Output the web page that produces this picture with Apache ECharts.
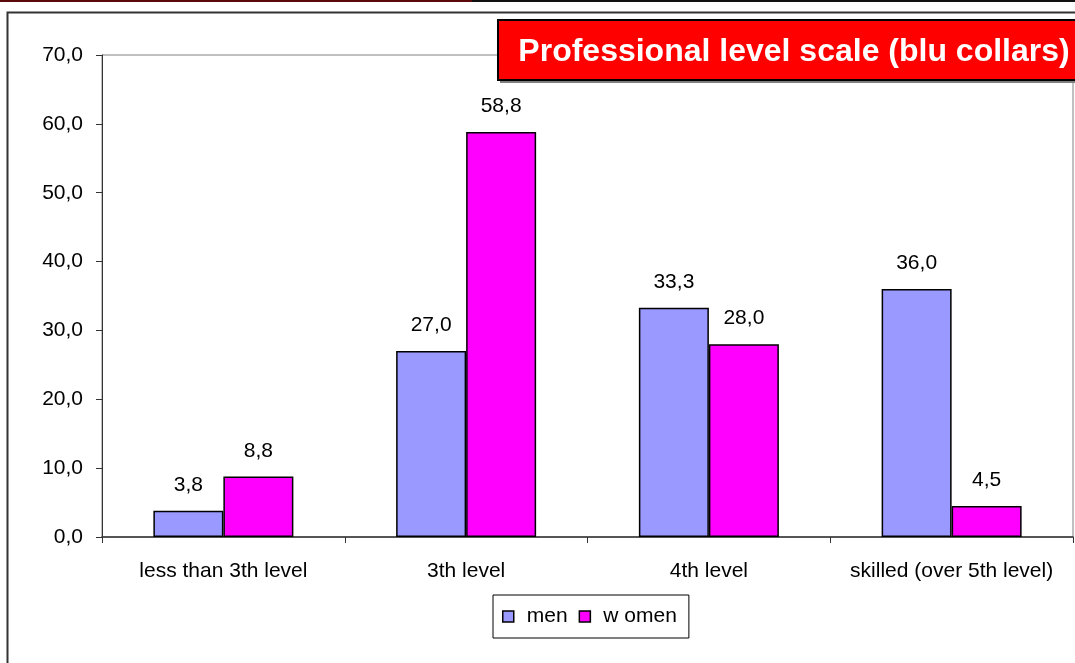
<!DOCTYPE html>
<html>
<head>
<meta charset="utf-8">
<script src="https://cdn.jsdelivr.net/npm/echarts@6/dist/echarts.min.js"></script>
<style>
  html, body { margin: 0; padding: 0; background: #fff; }
  #chart { width: 1075px; height: 663px; }
</style>
</head>
<body>
<div id="chart"></div>
<script>
// Categories and values (percent)
const categories = ['less than 3th level', '3th level', '4th level', 'skilled (over 5th level)'];
const men = [3.8, 27.0, 33.3, 36.0];
const women = [8.8, 58.8, 28.0, 4.5];
const seriesNames = ['men', 'w omen'];
const titleText = 'Professional level scale (blu collars)';

const FONT = '"Liberation Sans", Arial, sans-serif';
const comma = v => v.toFixed(1).replace('.', ',');

const chart = echarts.init(document.getElementById('chart'), null, { renderer: 'canvas' });

const labelStyle = {
  show: true,
  position: 'top',
  distance: 15,
  color: '#000',
  fontFamily: FONT,
  fontSize: 21,
  formatter: p => comma(p.value)
};

chart.setOption({
  animation: false,
  backgroundColor: '#fff',
  grid: {
    left: 102, top: 55, right: 2, bottom: 126,
    show: true, borderColor: '#808080', borderWidth: 1, backgroundColor: 'transparent'
  },
  legend: {
    data: seriesNames,
    left: 493, top: 595,
    padding: [11, 12, 11, 9],
    borderColor: '#000', borderWidth: 1,
    itemWidth: 11, itemHeight: 11, itemGap: 11,
    icon: 'rect',
    itemStyle: { borderColor: '#000', borderWidth: 1.5 },
    textStyle: { fontFamily: FONT, fontSize: 21, color: '#000', padding: [0, 0, 0, 8] }
  },
  xAxis: {
    type: 'category',
    data: categories,
    axisLine: { lineStyle: { color: '#333', width: 1.5 } },
    axisTick: { show: true, interval: 0, length: 6, alignWithLabel: false, lineStyle: { color: '#333' } },
    axisLabel: { interval: 0, hideOverlap: false, color: '#000', fontFamily: FONT, fontSize: 21, margin: 24 },
    splitLine: { show: false }
  },
  yAxis: {
    type: 'value',
    min: 0, max: 70, interval: 10,
    axisLine: { show: true, lineStyle: { color: '#333', width: 1 } },
    axisTick: { show: true, length: 6, lineStyle: { color: '#333' } },
    axisLabel: { color: '#000', fontFamily: FONT, fontSize: 21, margin: 19, formatter: v => comma(v) },
    splitLine: { show: false }
  },
  series: [
    {
      name: seriesNames[0], type: 'bar', data: men,
      barWidth: 70, barGap: '0%',
      itemStyle: { color: '#9999FF', borderColor: '#000', borderWidth: 1.5 },
      label: labelStyle
    },
    {
      name: seriesNames[1], type: 'bar', data: women,
      barWidth: 70,
      itemStyle: { color: '#FF00FF', borderColor: '#000', borderWidth: 1.5 },
      label: labelStyle
    }
  ],
  graphic: [
    // top strip of the window
    { type: 'rect', left: 0, top: 0, shape: { width: 472, height: 2 }, style: { fill: '#5a0a0a' }, silent: true },
    { type: 'rect', left: 472, top: 0, shape: { width: 603, height: 2 }, style: { fill: '#111' }, silent: true },
    // outer chart frame (continues past the right and bottom edges)
    { type: 'polyline', shape: { points: [[7.5, 670], [7.5, 12.5], [1080, 12.5]] },
      style: { stroke: '#333', lineWidth: 2, fill: null }, silent: true },
    // title box with drop shadow
    { type: 'rect', left: 500, top: 23, shape: { width: 600, height: 60 }, style: { fill: '#808080' }, silent: true, z: 10 },
    { type: 'rect', shape: { x: 498, y: 20, width: 600, height: 60 },
      style: { fill: '#FF0000', stroke: '#000', lineWidth: 2 }, silent: true, z: 11 },
    { type: 'text', x: 794, y: 52, z: 12, silent: true,
      style: { text: titleText, fill: '#fff', font: 'bold 32px ' + FONT, align: 'center', verticalAlign: 'middle' } }
  ]
});
</script>
</body>
</html>
